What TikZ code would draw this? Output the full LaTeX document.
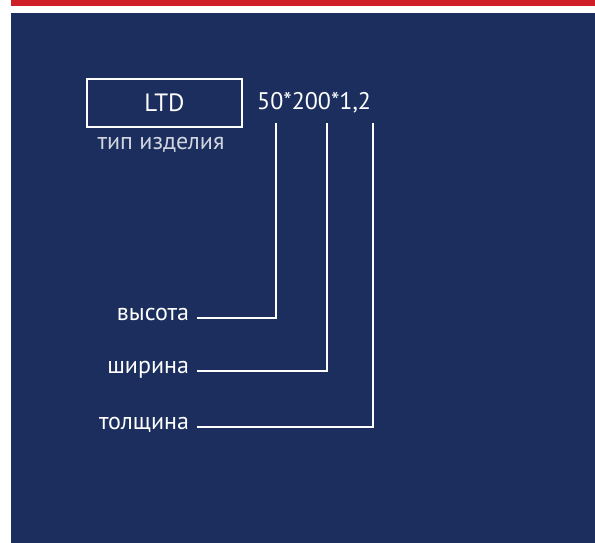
\documentclass[tikz,border=0pt]{standalone}
\usepackage{xcolor}
\usepackage{fontspec}
\setmainfont{PT Sans}
\usetikzlibrary{positioning}
\definecolor{navy}{RGB}{28,46,94}
\definecolor{topred}{RGB}{206,31,38}

\begin{document}
\begin{tikzpicture}[x=1pt, y=-1pt,
      typebox/.style={draw=white, line width=2pt, minimum width=155pt, minimum height=48pt,
                      text=white, font=\fontsize{25}{29}\selectfont},
      caption/.style={text=white!80!navy, font=\fontsize{24}{28}\selectfont,
                      text height=1ex, text depth=0pt, inner sep=0pt},
      sizetext/.style={text=white, font=\fontsize{24}{28}\selectfont, inner sep=0pt},
      dimlabel/.style={text=white, font=\fontsize{24}{28}\selectfont, anchor=east,
                       text height=1ex, text depth=0pt, inner sep=0pt, outer xsep=8pt},
      leader/.style={draw=white, line width=1.5pt},
    ]

    \useasboundingbox (0,0) rectangle (595,543);

    % Background
    \fill[topred] (11,0) rectangle (595,6);
    \fill[navy] (11,13) rectangle (595,543);

    % Product type
    \node[typebox] (ltd) at (164.5,103) {LTD};
    \node[caption] (type) at (161,147) {тип изделия};

    % Size string
    \node[sizetext, anchor=west] (size) at (257,103) {50*200*1,2};

    % Leader tops
    \coordinate (hgt) at (276,123);
    \coordinate (wid) at (327,123);
    \coordinate (thk) at (373,123);

    % Dimension labels
    \node[dimlabel] (height) at (197,318) {высота};
    \node[dimlabel] (width) at (197,371) {ширина};
    \node[dimlabel] (thick) at (197,427) {толщина};

    % Leaders
    \draw[leader] (height) -| (hgt);
    \draw[leader] (width) -| (wid);
    \draw[leader] (thick) -| (thk);

  \end{tikzpicture}
\end{document}
